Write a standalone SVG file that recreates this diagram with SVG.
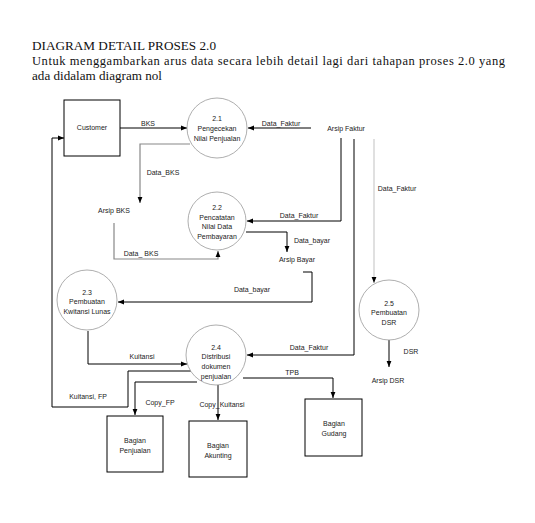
<svg xmlns="http://www.w3.org/2000/svg" width="535" height="523" viewBox="0 0 535 523">
<style>
.hd{font-family:"Liberation Serif","Times New Roman",serif;font-size:12.5px;fill:#111}
.lb{font-family:"Liberation Sans",Arial,sans-serif;font-size:7px;fill:#222;text-anchor:middle}
.box{fill:#fff;stroke:#000;stroke-width:1}
.proc{fill:#fff;stroke:#999;stroke-width:0.8}
.ln{fill:none;stroke:#000;stroke-width:1}
.gl{fill:none;stroke:#888;stroke-width:1.2}
.lg{fill:none;stroke:#ccc;stroke-width:1.2}
</style>
<defs>
<marker id="ah" viewBox="0 0 10 10" refX="10" refY="5" markerWidth="6" markerHeight="6" orient="auto" markerUnits="userSpaceOnUse">
<path d="M0,1 L10,5 L0,9 Z" fill="#000"/>
</marker>
</defs>
<rect width="535" height="523" fill="#fff"/>
<g id="heading">
<text class="hd" x="32" y="50" textLength="184" lengthAdjust="spacingAndGlyphs">DIAGRAM DETAIL PROSES 2.0</text>
<text class="hd" x="32" y="65" textLength="473" lengthAdjust="spacing">Untuk menggambarkan arus data  secara lebih detail lagi dari tahapan proses 2.0 yang</text>
<text class="hd" x="32" y="80" textLength="130" lengthAdjust="spacingAndGlyphs">ada didalam diagram nol</text>
</g>
<g id="connectors">
<path class="ln" d="M120,128 H187" marker-end="url(#ah)"/>
<text class="lb" x="148" y="126">BKS</text>
<path class="ln" d="M311,128 H248" marker-end="url(#ah)"/>
<text class="lb" x="281" y="126">Data_Faktur</text>
<path class="gl" d="M190,144 H140 V203" marker-end="url(#ah)"/>
<text class="lb" x="163" y="175">Data_BKS</text>
<path class="gl" d="M114,223 V259 H218 V251" marker-end="url(#ah)"/>
<text class="lb" x="141" y="256">Data_ BKS</text>
<path class="ln" d="M341,138 V221 H247" marker-end="url(#ah)"/>
<text class="lb" x="299" y="218">Data_Faktur</text>
<path class="ln" d="M246,232 H287 V252" marker-end="url(#ah)"/>
<text class="lb" x="312" y="243">Data_bayar</text>
<path class="ln" d="M303,272 H312 V302 H118" marker-end="url(#ah)"/>
<text class="lb" x="252" y="292">Data_bayar</text>
<path class="ln" d="M88,331 V364 H187" marker-end="url(#ah)"/>
<text class="lb" x="142" y="359">Kuitansi</text>
<path class="ln" d="M354,139 V355 H247" marker-end="url(#ah)"/>
<text class="lb" x="309" y="350">Data_Faktur</text>
<path class="ln" d="M191,371 H128 V407 H52 V138 H64" marker-end="url(#ah)"/>
<text class="lb" x="88" y="399">Kuitansi, FP</text>
<path class="ln" d="M197,382 H135 V415" marker-end="url(#ah)"/>
<text class="lb" x="160" y="405">Copy_FP</text>
<path class="ln" d="M218,385 V420" marker-end="url(#ah)"/>
<text class="lb" x="222" y="407">Copy_Kuitansi</text>
<path class="ln" d="M243,378 H333 V398" marker-end="url(#ah)"/>
<text class="lb" x="292" y="375">TPB</text>
<path class="lg" d="M374,139 V283" marker-end="url(#ah)"/>
<text class="lb" x="397" y="191">Data_Faktur</text>
<path class="ln" d="M389,340 V367" marker-end="url(#ah)"/>
<text class="lb" x="411" y="354">DSR</text>
</g>
<g id="customer">
<rect class="box" x="64" y="100" width="56" height="56"/>
<text class="lb" x="92" y="130">Customer</text>
</g>
<g id="p21">
<circle class="proc" cx="217" cy="128" r="30"/>
<text class="lb" x="217" y="121">2.1</text>
<text class="lb" x="217" y="131">Pengecekan</text>
<text class="lb" x="217" y="141">Nilai Penjualan</text>
</g>
<g id="p22">
<circle class="proc" cx="217" cy="221" r="29"/>
<text class="lb" x="217" y="210">2.2</text>
<text class="lb" x="217" y="220">Pencatatan</text>
<text class="lb" x="217" y="229">Nilai Data</text>
<text class="lb" x="217" y="239">Pembayaran</text>
</g>
<g id="p23">
<circle class="proc" cx="87" cy="300" r="30"/>
<text class="lb" x="87" y="295">2.3</text>
<text class="lb" x="87" y="304">Pembuatan</text>
<text class="lb" x="87" y="314">Kwitansi Lunas</text>
</g>
<g id="p24">
<circle class="proc" cx="216" cy="355" r="30"/>
<text class="lb" x="216" y="350">2.4</text>
<text class="lb" x="216" y="359">Distribusi</text>
<text class="lb" x="216" y="369">dokumen</text>
<text class="lb" x="216" y="379">penjualan</text>
</g>
<g id="p25">
<circle class="proc" cx="389" cy="310" r="30"/>
<text class="lb" x="389" y="306">2.5</text>
<text class="lb" x="389" y="315">Pembuatan</text>
<text class="lb" x="389" y="325">DSR</text>
</g>
<g id="stores">
<text class="lb" x="346" y="131">Arsip Faktur</text>
<text class="lb" x="114" y="213">Arsip BKS</text>
<text class="lb" x="297" y="262">Arsip Bayar</text>
<text class="lb" x="388" y="383">Arsip DSR</text>
</g>
<g id="penjualan">
<rect class="box" x="107" y="416" width="56" height="56"/>
<text class="lb" x="135" y="443">Bagian</text>
<text class="lb" x="135" y="453">Penjualan</text>
</g>
<g id="akunting">
<rect class="box" x="189" y="421" width="58" height="56"/>
<text class="lb" x="218" y="448">Bagian</text>
<text class="lb" x="218" y="458">Akunting</text>
</g>
<g id="gudang">
<rect class="box" x="305" y="399" width="57" height="57"/>
<text class="lb" x="334" y="426">Bagian</text>
<text class="lb" x="334" y="436">Gudang</text>
</g>
</svg>
